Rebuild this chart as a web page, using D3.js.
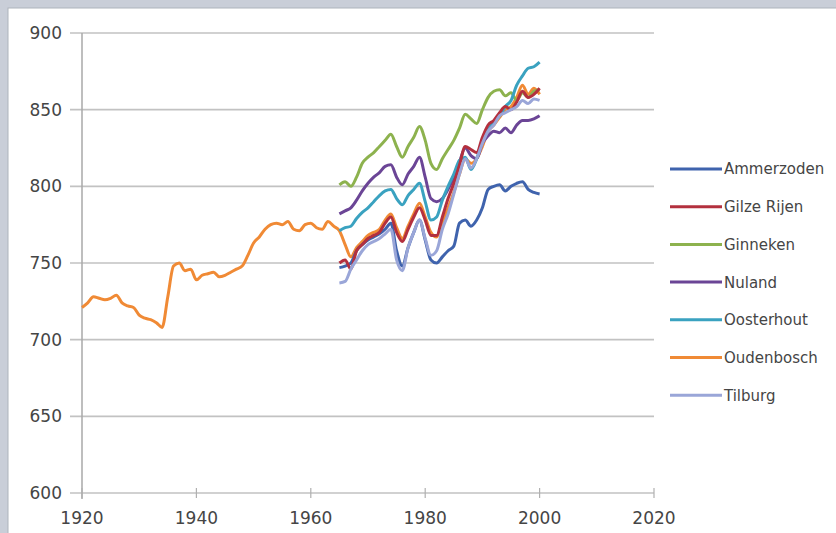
<!DOCTYPE html>
<html><head><meta charset="utf-8">
<script src="https://cdn.jsdelivr.net/npm/d3@7"></script>
<style>body{margin:0;background:#c9ced8;}svg{display:block;}</style>
</head><body><svg id="c" width="836" height="533"></svg>
<script>
const yearsLong = d3.range(1920, 2001);
const yearsShort = d3.range(1965, 2001);
const yTicks = [600, 650, 700, 750, 800, 850, 900];
const xTicks = [1920, 1940, 1960, 1980, 2000, 2020];
const seriesNames = ["Ammerzoden","Gilze Rijen","Ginneken","Nuland","Oosterhout","Oudenbosch","Tilburg"];
const seriesColors = ["#3f63ad","#b3303e","#8db24e","#6b4596","#3aa2c0","#f08a35","#9aa6d8"];

// 1920..2000
const oudenbosch = [721,724,728,727,726,727,729,724,722,721,716,714,713,711,708,728,748,750,745,746,
  739,742,743,744,741,742,744,746,748,755,763,767,772,775,776,775,777,772,771,775,
  776,773,772,777,774,771,762,754,760,764,768,770,772,778,782,773,766,774,782,789,
  780,770,767,776,786,796,808,818,815,818,826,836,840,845,850,852,858,866,860,864,860];
// 1965..2000
const ammerzoden = [747,748,750,758,762,765,767,769,772,776,758,748,760,770,778,765,752,750,754,758,
  761,776,778,774,778,786,798,800,801,797,800,802,803,798,796,795];
const gilzeRijen = [750,752,746,758,762,766,768,770,776,780,770,764,772,780,786,778,768,768,780,792,
  802,814,826,824,822,832,840,843,848,852,850,855,862,858,860,864];
const ginneken = [801,803,800,806,815,819,822,826,830,834,826,819,826,832,839,830,815,811,818,824,
  830,838,847,844,841,850,858,862,863,859,861,856,861,858,862,863];
const nuland = [782,784,786,791,797,802,806,809,813,814,806,801,808,813,819,806,792,790,792,798,
  806,816,825,820,818,828,833,836,835,838,835,840,843,843,844,846];
const oosterhout = [771,773,774,779,783,786,790,794,797,798,792,788,794,798,802,790,778,780,791,800,
  808,817,819,811,818,830,837,842,846,852,856,866,872,877,878,881];
const tilburg = [737,738,746,752,758,762,764,766,769,772,752,745,760,770,778,766,755,758,772,782,
  795,808,818,812,818,828,836,840,846,848,850,852,856,854,857,856];

const seriesData = [
  {name:seriesNames[0], years:yearsShort, values:ammerzoden},
  {name:seriesNames[1], years:yearsShort, values:gilzeRijen},
  {name:seriesNames[2], years:yearsShort, values:ginneken},
  {name:seriesNames[3], years:yearsShort, values:nuland},
  {name:seriesNames[4], years:yearsShort, values:oosterhout},
  {name:seriesNames[5], years:yearsLong, values:oudenbosch},
  {name:seriesNames[6], years:yearsShort, values:tilburg}
];

const svg = d3.select("#c");
svg.append("rect").attr("x",8).attr("y",8).attr("width",840).attr("height",540)
  .attr("fill","#ffffff").attr("stroke","#aeb3bb").attr("stroke-width",1);

const x = d3.scaleLinear().domain([1920, 2020]).range([82, 654]);
const y = d3.scaleLinear().domain([600, 900]).range([493, 33]);

svg.append("g").selectAll("line").data(yTicks).join("line")
  .attr("x1",70).attr("x2",654).attr("y1",d=>y(d)).attr("y2",d=>y(d))
  .attr("stroke","#c2c2c2").attr("stroke-width",1.6);
svg.append("line").attr("x1",x(1920)).attr("x2",x(1920)).attr("y1",y(900)).attr("y2",y(600)+6)
  .attr("stroke","#a8a8a8").attr("stroke-width",1.5);
svg.append("g").selectAll("line").data(xTicks).join("line")
  .attr("x1",d=>x(d)).attr("x2",d=>x(d)).attr("y1",y(600)-5).attr("y2",y(600)+5)
  .attr("stroke","#b0b0b0").attr("stroke-width",1.2);

const font = "'DejaVu Sans', sans-serif";
svg.append("g").selectAll("text").data(yTicks).join("text")
  .attr("x",62).attr("y",d=>y(d)).attr("dy","0.36em").attr("text-anchor","end")
  .attr("font-family",font).attr("font-size",17).attr("fill","#454545").text(d=>d);
svg.append("g").selectAll("text").data(xTicks).join("text")
  .attr("x",d=>x(d)).attr("y",524).attr("text-anchor","middle")
  .attr("font-family",font).attr("font-size",17).attr("fill","#454545").text(d=>d);

const line = d3.line().x(d=>x(d[0])).y(d=>y(d[1])).curve(d3.curveMonotoneX);
const order = [5,2,3,4,0,1,6];
svg.append("g").selectAll("path").data(order.map(i=>({s:seriesData[i], c:seriesColors[i]}))).join("path")
  .attr("fill","none").attr("stroke",d=>d.c).attr("stroke-width",3)
  .attr("stroke-linejoin","round")
  .attr("d",d=>line(d.s.years.map((yr,i)=>[yr,d.s.values[i]])));

const lg = svg.append("g").selectAll("g").data(seriesNames).join("g")
  .attr("transform",(d,i)=>`translate(670,${169 + i*37.7})`);
lg.append("line").attr("x1",0).attr("x2",52).attr("stroke",(d,i)=>seriesColors[i]).attr("stroke-width",3);
lg.append("text").attr("x",54).attr("dy","0.36em").attr("font-family",font).attr("font-size",15)
  .attr("fill","#454545").text(d=>d);
</script></body></html>
